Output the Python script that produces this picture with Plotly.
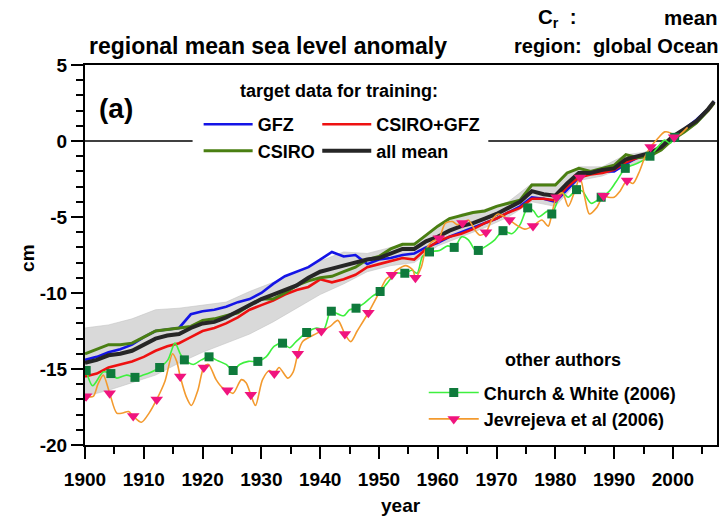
import numpy as np
import plotly.graph_objects as go

# ---- reconstructed global-mean sea level anomalies (cm) ----
years = [1900, 1902, 1904, 1906, 1908, 1910, 1912, 1914, 1916, 1918,
         1920, 1922, 1924, 1926, 1928, 1930, 1932, 1934, 1936, 1938,
         1940, 1942, 1944, 1946, 1948, 1950, 1952, 1954, 1956, 1958,
         1960, 1962, 1964, 1966, 1968, 1970, 1972, 1974, 1976, 1978,
         1980, 1982, 1984, 1986, 1988, 1990, 1992, 1994, 1996, 1998,
         2000, 2002, 2004, 2006, 2007]

gfz = [-14.4, -14.2, -13.9, -13.7, -13.4, -12.9, -12.5, -12.4, -12.3, -11.4,
       -11.2, -11.1, -10.9, -10.6, -10.4, -10.0, -9.4, -8.9, -8.6, -8.3,
       -7.8, -7.3, -7.6, -7.5, -8.1, -7.8, -7.7, -7.5, -7.4, -7.0,
       -6.7, -6.3, -6.0, -5.7, -5.4, -5.1, -4.7, -4.3, -3.7, -3.8,
       -4.0, -3.2, -2.4, -2.1, -2.0, -2.0, -1.5, -1.1, -0.8, -0.4,
       0.3, 0.8, 1.4, 2.1, 2.6]

csiro = [-14.0, -13.7, -13.4, -13.4, -13.3, -12.9, -12.5, -12.4, -12.3, -12.2,
         -11.8, -11.7, -11.5, -11.3, -10.8, -10.4, -10.4, -10.0, -9.5, -9.2,
         -9.0, -8.9, -8.6, -8.3, -7.8, -7.6, -7.1, -6.8, -6.8, -6.2,
         -5.6, -5.1, -4.9, -4.7, -4.6, -4.3, -4.1, -3.9, -2.9, -2.9,
         -2.9, -2.1, -1.8, -2.0, -1.8, -1.6, -0.9, -1.1, -1.0, -0.6,
         0.1, 0.6, 1.2, 2.0, 2.5]

csiro_gfz = [-15.5, -15.3, -14.9, -14.7, -14.5, -14.2, -13.8, -13.5, -13.3, -12.9,
             -12.5, -12.3, -12.0, -11.6, -11.1, -10.8, -10.5, -10.1, -9.8, -9.6,
             -9.1, -9.3, -9.1, -8.8, -8.3, -8.1, -7.9, -7.7, -7.8, -7.1,
             -6.6, -6.3, -6.1, -5.8, -5.4, -5.1, -4.7, -4.4, -3.8, -3.8,
             -3.9, -3.0, -2.4, -2.2, -2.1, -1.9, -1.4, -1.1, -0.9, -0.5,
             0.2, 0.7, 1.3, 2.0, 2.5]

all_mean = [-14.6, -14.4, -14.1, -14.0, -13.8, -13.4, -13.0, -12.8, -12.7, -12.3,
            -12.0, -11.9, -11.6, -11.2, -10.8, -10.4, -10.1, -9.8, -9.5, -9.0,
            -8.6, -8.4, -8.2, -8.0, -7.8, -7.7, -7.4, -7.1, -7.1, -6.6,
            -6.3, -5.9, -5.6, -5.4, -5.1, -4.8, -4.4, -4.0, -3.3, -3.5,
            -3.6, -2.8, -2.1, -2.1, -1.9, -1.8, -1.2, -1.0, -0.8, -0.4,
            0.3, 0.8, 1.3, 2.1, 2.6]

# spread of the training ensemble
band_years = [1900, 1904, 1908, 1912, 1916, 1920, 1924, 1928, 1932, 1936,
              1940, 1944, 1948, 1952, 1956, 1960, 1964, 1968, 1972, 1976,
              1980, 1984, 1988, 1992, 1996, 2000, 2004, 2007]
band_upper = [-12.3, -12.1, -11.7, -11.1, -11.0, -10.8, -10.6, -9.9, -9.3, -8.6,
              -7.9, -7.3, -7.4, -7.0, -6.7, -5.6, -4.8, -4.5, -4.0, -2.8,
              -2.8, -1.7, -1.7, -0.9, -0.7, 0.3, 1.4, 2.7]
band_lower = [-16.8, -16.4, -15.9, -15.4, -14.6, -13.9, -13.3, -12.7, -11.9, -11.0,
              -10.1, -9.4, -8.6, -8.2, -8.0, -6.9, -6.3, -5.7, -5.0, -4.0,
              -4.3, -2.6, -2.3, -1.7, -1.1, 0.0, 1.1, 2.4]

# Church & White (2006)
cw_years = [1900.2, 1901.3, 1903.1, 1904.4, 1905.4, 1907.1, 1908.5, 1909.9, 1911.3, 1912.7,
            1914.1, 1915.3, 1916.2, 1916.9, 1918.4, 1919.8, 1921.1, 1922.3, 1924.0, 1925.2,
            1926.3, 1927.8, 1929.4, 1930.8, 1932.2, 1933.6, 1934.8, 1935.9, 1937.7, 1939.4,
            1940.6, 1941.6, 1941.9, 1944.0, 1945.0, 1946.1, 1947.4, 1948.9, 1950.2, 1951.3,
            1952.9, 1954.4, 1955.6, 1956.5, 1957.4, 1958.6, 1960.3, 1961.7, 1962.8, 1964.1,
            1965.2, 1966.4, 1966.9, 1968.3, 1969.7, 1971.1, 1972.6, 1974.0, 1975.3, 1976.3,
            1977.1, 1978.8, 1979.4, 1981.1, 1982.2, 1983.6, 1984.6, 1986.1, 1987.8, 1989.2,
            1990.3, 1991.9, 1993.1, 1994.3, 1996.1, 1997.5, 1998.6, 1999.5, 2000.3, 2000.8]
cw_values = [-15.1, -16.1, -15.2, -15.3, -15.6, -15.4, -15.55, -15.4, -15.2, -14.9,
             -14.4, -13.3, -14.0, -14.4, -14.7, -14.4, -14.2, -14.4, -14.7, -15.1,
             -14.7, -14.5, -14.5, -14.2, -13.5, -13.3, -13.6, -13.2, -12.6, -12.3,
             -12.4, -11.3, -11.2, -11.5, -11.1, -11.0, -10.7, -10.2, -9.9, -9.4,
             -8.7, -8.7, -8.5, -8.7, -7.6, -7.3, -7.2, -6.9, -7.0, -6.3,
             -6.5, -7.2, -7.2, -6.9, -6.5, -5.9, -6.1, -5.5, -4.4, -4.6,
             -5.0, -4.6, -4.8, -3.4, -3.7, -3.2, -3.3, -4.1, -3.7, -3.3,
             -2.7, -1.8, -1.6, -1.4, -1.0, -0.37, 0.06, -0.15, 0.24, 0.3]
cw_marker_years = [1900.2, 1904.4, 1908.5, 1912.7, 1916.9, 1921.1, 1925.2, 1929.4, 1933.6,
                   1937.7, 1941.9, 1946.1, 1950.2, 1954.4, 1958.6, 1962.8, 1966.9, 1971.1,
                   1975.3, 1979.4, 1983.6, 1987.8, 1991.9, 1996.1, 2000.3]

# Jevrejeva et al (2006)
jev_years = [1900.2, 1901.4, 1902.2, 1903.1, 1904.2, 1905.4, 1906.4, 1907.4, 1908.2, 1909.6,
             1910.9, 1912.2, 1913.6, 1914.9, 1915.6, 1916.2, 1917.2, 1918.1, 1919.2, 1920.2,
             1921.0, 1922.3, 1923.3, 1924.2, 1925.2, 1926.6, 1927.4, 1928.2, 1929.0, 1930.2,
             1931.4, 1932.2, 1933.0, 1934.5, 1935.4, 1936.2, 1937.0, 1938.7, 1940.2, 1941.7,
             1943.0, 1944.2, 1945.2, 1946.3, 1948.2, 1950.0, 1951.2, 1952.2, 1953.0, 1954.6,
             1955.8, 1956.2, 1957.2, 1958.0, 1959.1, 1960.2, 1961.3, 1962.5, 1963.3, 1964.2,
             1965.2, 1966.4, 1967.2, 1968.2, 1969.2, 1970.3, 1971.4, 1972.2, 1973.7, 1974.8,
             1976.2, 1977.7, 1978.8, 1979.4, 1980.2, 1981.2, 1982.2, 1983.3, 1984.2, 1985.0,
             1985.8, 1987.0, 1988.2, 1989.0, 1990.0, 1991.0, 1992.2, 1993.2, 1994.2, 1995.3,
             1996.2, 1997.5, 1998.6, 1999.7, 2000.2, 2001.1, 2002.5]
jev_values = [-16.8, -16.8, -16.0, -15.4, -16.6, -17.9, -17.9, -17.8, -18.1, -18.5,
              -17.9, -17.0, -15.8, -14.0, -14.5, -15.5, -16.8, -17.4, -16.4, -14.9,
              -14.7, -15.7, -16.2, -16.4, -16.6, -15.7, -15.9, -16.7, -17.4, -15.7,
              -15.1, -15.3, -14.9, -15.6, -15.2, -14.0, -13.2, -12.8, -12.5, -12.2,
              -11.8, -12.7, -13.2, -12.5, -11.3, -10.0, -9.1, -8.8, -8.5, -8.2,
              -8.5, -9.0, -8.3, -7.1, -6.6, -6.4, -5.4, -5.3, -5.5, -5.4,
              -5.2, -5.9, -6.2, -6.0, -5.2, -4.8, -5.0, -5.2, -5.6, -5.8,
              -5.6, -5.2, -5.6, -4.8, -3.7, -3.4, -4.3, -3.3, -2.4, -3.7,
              -4.8, -4.4, -3.6, -3.7, -3.7, -3.3, -2.6, -2.8, -2.1, -1.0,
              -0.4, 0.2, 0.6, 0.5, 0.25, 0.4, 0.9]
jev_marker_years = [1900.2 + 4 * k for k in range(26)]

x_ticks = list(range(1900, 2001, 10))
y_ticks = [-20, -15, -10, -5, 0, 5]

# ---- styling ----
FONT = "Liberation Sans, Arial, sans-serif"
BLUE, RED, GREEN, BLACK = "#1414e6", "#ee1111", "#4a7f12", "#262626"
CW_LINE, CW_MARK = "#3ef03e", "#0f7a3c"
JEV_LINE, JEV_MARK = "#f39a2e", "#f0147e"

fig = go.Figure()

# ensemble spread
fig.add_trace(go.Scatter(
    x=band_years + band_years[::-1], y=band_upper + band_lower[::-1],
    fill="toself", fillcolor="#d9d9d9", line=dict(color="#c4c4c4", width=0.6),
    mode="lines", showlegend=False, hoverinfo="skip"))

cw_mark_vals = np.interp(cw_marker_years, cw_years, cw_values)
jev_mark_vals = np.interp(jev_marker_years, jev_years, jev_values)

main = [
    ("GFZ", gfz, BLUE, 2.6, "legend"),
    ("CSIRO+GFZ", csiro_gfz, RED, 2.6, "legend2"),
    ("CSIRO", csiro, GREEN, 3.0, "legend"),
    ("all mean", all_mean, BLACK, 4.0, "legend2"),
]
for name, vals, col, w, lg in main:
    fig.add_trace(go.Scatter(x=years, y=vals, mode="lines", name=f"<b>{name}</b>",
                             line=dict(color=col, width=w), legend=lg))

fig.add_trace(go.Scatter(x=cw_years, y=cw_values, mode="lines", showlegend=False,
                         line=dict(color=CW_LINE, width=1.6, shape="spline", smoothing=0.8)))
fig.add_trace(go.Scatter(x=jev_years, y=jev_values, mode="lines", showlegend=False,
                         line=dict(color=JEV_LINE, width=1.6, shape="spline", smoothing=0.8)))
fig.add_trace(go.Scatter(x=cw_marker_years, y=cw_mark_vals, mode="markers", showlegend=False,
                         marker=dict(symbol="square", size=9, color=CW_MARK)))
fig.add_trace(go.Scatter(x=jev_marker_years, y=jev_mark_vals, mode="markers", showlegend=False,
                         marker=dict(symbol="triangle-down", size=11, color=JEV_MARK)))

# legend entries for the other-author curves
fig.add_trace(go.Scatter(x=[None], y=[None], mode="lines+markers",
                         name="<b>Church & White (2006)</b>",
                         line=dict(color=CW_LINE, width=1.6),
                         marker=dict(symbol="square", size=9, color=CW_MARK), legend="legend3"))
fig.add_trace(go.Scatter(x=[None], y=[None], mode="lines+markers",
                         name="<b>Jevrejeva et al (2006)</b>",
                         line=dict(color=JEV_LINE, width=1.6),
                         marker=dict(symbol="triangle-down", size=11, color=JEV_MARK),
                         legend="legend3"))

# zero line, interrupted behind the legend block
for x0, x1 in [(1900, 1918.3), (1968.6, 2007.5)]:
    fig.add_shape(type="line", xref="x", yref="y", x0=x0, x1=x1, y0=0, y1=0,
                  line=dict(color="black", width=1.5), layer="below")

legend_common = dict(bgcolor="rgba(0,0,0,0)", borderwidth=0,
                     font=dict(family=FONT, size=18, color="black"),
                     xanchor="left", yanchor="top",
                     traceorder="normal", itemclick=False)
fig.update_layout(
    legend=dict(x=0.1798, y=0.892, itemwidth=49, **legend_common),
    legend2=dict(x=0.3675, y=0.892, itemwidth=49, **legend_common),
    legend3=dict(x=0.536, y=0.186, itemwidth=50, **legend_common),
)

ann_font = dict(family=FONT, color="black")
annotations = [
    dict(text="<b>regional mean sea level anomaly</b>", x=0.003, y=1.05, xanchor="left",
         yanchor="middle", font=dict(size=23, **ann_font)),
    dict(text="<b>region:&nbsp;&nbsp;global Ocean</b>", x=1.005, y=1.05, xanchor="right",
         yanchor="middle", font=dict(size=20, **ann_font)),
    dict(text="<b>mean</b>", x=1.005, y=1.124, xanchor="right", yanchor="middle",
         font=dict(size=20.5, **ann_font)),
    dict(text="<b>C<sub>r</sub>&nbsp;&nbsp;:</b>", x=0.782, y=1.124, xanchor="right",
         yanchor="middle", font=dict(size=20.5, **ann_font)),
    dict(text="<b>(a)</b>", x=0.019, y=0.886, xanchor="left", yanchor="middle",
         font=dict(size=28, **ann_font)),
    dict(text="<b>target data for training:</b>", x=0.402, y=0.932, xanchor="center",
         yanchor="middle", font=dict(size=18, **ann_font)),
    dict(text="<b>other authors</b>", x=0.757, y=0.224, xanchor="center",
         yanchor="middle", font=dict(size=18, **ann_font)),
    dict(text="<b>year</b>", x=0.5, y=-0.158, xanchor="center", yanchor="middle",
         font=dict(size=19, **ann_font)),
    dict(text="<b>cm</b>", x=-0.092, y=0.492, xanchor="center", yanchor="middle",
         textangle=-90, font=dict(size=19, **ann_font)),
]
for a in annotations:
    a.update(xref="paper", yref="paper", showarrow=False)

axis_common = dict(showline=True, linecolor="black", linewidth=2, mirror=True,
                   ticks="outside", ticklen=12, tickwidth=1.5, tickcolor="black",
                   showgrid=False, zeroline=False,
                   tickfont=dict(family=FONT, size=19, color="black"))

fig.update_layout(
    width=722, height=516,
    margin=dict(l=85, r=3, t=65, b=71),
    paper_bgcolor="white", plot_bgcolor="white",
    font=dict(family=FONT, color="black"),
    xaxis=dict(range=[1900, 2007.5], tickvals=x_ticks,
               ticktext=[f"<b>{y}</b>" for y in x_ticks], ticklabelstandoff=4,
               minor=dict(dtick=5, tick0=1900, ticklen=7, tickwidth=1.5, tickcolor="black",
                          ticks="outside"),
               **axis_common),
    yaxis=dict(range=[-20, 5], tickvals=y_ticks,
               ticktext=[f"<b>{v}</b>" for v in y_ticks],
               minor=dict(dtick=1, tick0=0, ticklen=7, tickwidth=1.5, tickcolor="black",
                          ticks="outside"),
               **axis_common),
    annotations=annotations,
)

fig.write_html("out.html")
